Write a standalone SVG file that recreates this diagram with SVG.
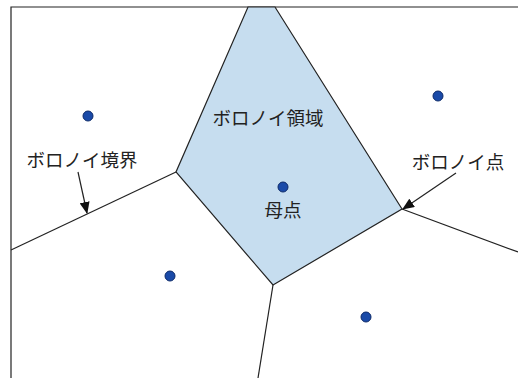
<svg xmlns="http://www.w3.org/2000/svg" width="518" height="378" viewBox="0 0 518 378">
<style>
.edge{stroke:#222;stroke-width:1.2;fill:none}
.site{fill:#1a4aa8;stroke:#0d2a6a;stroke-width:1}
.lbl{font-family:"Noto Sans CJK JP","Liberation Sans",sans-serif;font-size:18.5px;fill:#222}
.arr{stroke:#222;stroke-width:1.2;fill:none;marker-end:url(#ah)}
</style>
<defs>
<marker id="ah" viewBox="0 0 12 10" refX="11" refY="5" markerWidth="12" markerHeight="10" markerUnits="userSpaceOnUse" orient="auto">
<path d="M0,0 L12,5 L0,10 Z" fill="#111"/>
</marker>
</defs>
<rect x="0" y="0" width="518" height="378" fill="#fff"/>
<g id="frame">
<path class="edge" d="M11,378 L11,7 L518,7"/>
</g>
<g id="region">
<polygon points="248,7 275,7 402,209 273,285 176,172" fill="#c6ddef" stroke="#222" stroke-width="1.2"/>
</g>
<g id="connectors">
<path class="edge" d="M176,172 L11,250"/>
<path class="edge" d="M402,209 L518,252"/>
<path class="edge" d="M273,285 L258,378"/>
<path class="arr" d="M78,172 L87,213"/>
<path class="arr" d="M456,173 L403,209"/>
</g>
<g id="sites">
<circle class="site" cx="88" cy="116" r="5"/>
<circle class="site" cx="438" cy="96" r="5"/>
<circle class="site" cx="283" cy="187" r="5"/>
<circle class="site" cx="170" cy="276" r="5"/>
<circle class="site" cx="366" cy="317" r="5"/>
</g>
<g id="labels">
<text class="lbl" x="268" y="125" text-anchor="middle">ボロノイ領域</text>
<text class="lbl" x="82" y="167" text-anchor="middle">ボロノイ境界</text>
<text class="lbl" x="458" y="169" text-anchor="middle">ボロノイ点</text>
<text class="lbl" x="283" y="217" text-anchor="middle">母点</text>
</g>
</svg>
